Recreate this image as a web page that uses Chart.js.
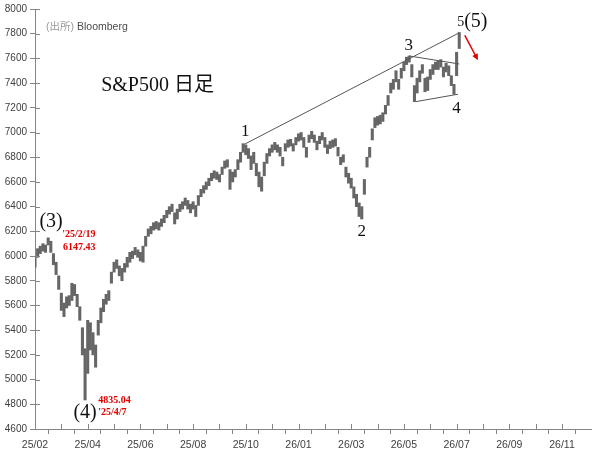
<!DOCTYPE html>
<html>
<head>
<meta charset="utf-8">
<script src="https://cdn.jsdelivr.net/npm/chart.js@4"></script>
<style>
  html, body { margin: 0; padding: 0; background: #fff; }
  #wrap { width: 604px; height: 467px; }
</style>
</head>
<body>
<div id="wrap"><canvas id="chart"></canvas></div>
<script>
// tick labels on the x axis, one every 20 bars
const tickLabels = ["25/02", "25/04", "25/06", "25/08", "25/10", "26/01",
    "26/03", "26/05", "26/07", "26/09", "26/11"];

// daily range, one bar per step
const lows = [
    5910, 5990, 6020, 6040, 6030, 6090, 6030, 5930, 5850, 5730,
    5560, 5510, 5580, 5600, 5640, 5680, 5590, 5480, 5200, 4835,
    5050, 5240, 5200, 5100, 5360, 5460, 5550, 5610, 5640, 5780,
    5870, 5900, 5840, 5800, 5870, 5910, 5950, 5980, 6010, 5990,
    5960, 5950, 6080, 6160, 6180, 6210, 6220, 6210, 6240, 6270,
    6310, 6340, 6360, 6260, 6300, 6360, 6380, 6410, 6380, 6350,
    6380, 6320, 6410, 6480, 6510, 6540, 6570, 6610, 6630, 6620,
    6600, 6660, 6710, 6720, 6540, 6600, 6640, 6700, 6760, 6840,
    6820, 6790, 6700, 6750, 6650, 6560, 6525, 6650, 6750, 6810,
    6840, 6860, 6840, 6810, 6730, 6850, 6880, 6890, 6850, 6900,
    6930, 6940, 6880, 6800, 6920, 6950, 6920, 6860, 6910, 6940,
    6880, 6830, 6870, 6880, 6890, 6810, 6740, 6760, 6640, 6590,
    6550, 6470, 6400, 6320, 6300, 6500, 6720, 6800, 6940, 7040,
    7060, 7070, 7090, 7150, 7220, 7320, 7350, 7410, 7350, 7440,
    7500, 7550, 7570, 7450, 7250, 7320, 7410, 7480, 7330, 7340,
    7430, 7470, 7510, 7510, 7530, 7450, 7490, 7460, 7380, 7310,
    7460, 7680
];
const highs = [
    5990, 6060, 6080, 6100, 6090, 6147, 6120, 6020, 5950, 5840,
    5700, 5620, 5670, 5680, 5780, 5770, 5690, 5590, 5420, 5250,
    5480, 5460, 5380, 5280, 5480, 5580, 5650, 5690, 5720, 5870,
    5950, 5970, 5920, 5900, 5940, 5990, 6030, 6040, 6070, 6050,
    6030, 6080, 6160, 6220, 6240, 6270, 6280, 6270, 6300, 6330,
    6370, 6400, 6420, 6350, 6380, 6420, 6440, 6470, 6450, 6420,
    6440, 6410, 6490, 6540, 6570, 6600, 6630, 6670, 6690, 6680,
    6660, 6720, 6770, 6780, 6700, 6680, 6700, 6780, 6840, 6910,
    6900, 6870, 6810, 6840, 6750, 6680, 6640, 6760, 6830, 6870,
    6900, 6920, 6900, 6880, 6800, 6910, 6940, 6945, 6910, 6960,
    6990, 7000, 6960, 6880, 6980, 7010, 6980, 6930, 6970, 7000,
    6960, 6900, 6930, 6940, 6950, 6880, 6800, 6820, 6720, 6670,
    6630, 6560, 6500, 6430, 6400, 6620, 6800, 6880, 7030, 7120,
    7130, 7140, 7160, 7220, 7300, 7400, 7430, 7500, 7430, 7520,
    7570, 7610, 7620, 7550, 7380, 7440, 7500, 7550, 7440, 7450,
    7510, 7550, 7570, 7580, 7590, 7530, 7560, 7540, 7460, 7390,
    7650, 7810
];

// wave-count trend lines (bar index, price)
const channelTop = [{x: 79.5, y: 6905}, {x: 160.8, y: 7805}];
const triangleTop = [{x: 142, y: 7620}, {x: 161, y: 7555}];
const triangleBottom = [{x: 144.5, y: 7250}, {x: 160.5, y: 7310}];

// text notes placed at (bar index, price)
const notes = [
    {text: "(出所)", x: 4.2, y: 7851, size: 10.5, color: "#9a9a9a", align: "left", font: "Liberation Sans"},
    {text: "S&P500 日足", x: 25.1, y: 7377, size: 20, color: "#111", align: "left", font: "Liberation Serif"},
    {text: "1", x: 79.8, y: 7007, size: 17, color: "#111", align: "center", font: "Liberation Serif"},
    {text: "2", x: 124, y: 6195, size: 17, color: "#111", align: "center", font: "Liberation Serif"},
    {text: "3", x: 141.8, y: 7707, size: 17, color: "#111", align: "center", font: "Liberation Serif"},
    {text: "4", x: 160, y: 7192, size: 17, color: "#111", align: "center", font: "Liberation Serif"},
    {text: "5", x: 161.6, y: 7891, size: 14, color: "#111", align: "center", font: "Liberation Serif"},
    {text: "(5)", x: 167.3, y: 7900, size: 20, color: "#111", align: "center", font: "Liberation Serif"},
    {text: "(3)", x: 6.1, y: 6275, size: 20, color: "#111", align: "center", font: "Liberation Serif"},
    {text: "(4)", x: 19, y: 4732, size: 20, color: "#111", align: "center", font: "Liberation Serif"},
    {text: "'25/2/19", x: 10.3, y: 6179, size: 10, color: "#e00000", align: "left", font: "Liberation Serif", bold: true},
    {text: "6147.43", x: 10.6, y: 6066, size: 10, color: "#e00000", align: "left", font: "Liberation Serif", bold: true},
    {text: "4835.04", x: 24, y: 4832, size: 10, color: "#e00000", align: "left", font: "Liberation Serif", bold: true},
    {text: "'25/4/7", x: 24, y: 4732, size: 10, color: "#e00000", align: "left", font: "Liberation Serif", bold: true}
];
const arrowFrom = {x: 163.1, y: 7787};
const arrowTo = {x: 168.1, y: 7586};

const AXIS_COLOR = "#858585";

const bars = lows.map(function(lo, i) {
    return {x: i, y: [lo, highs[i]]};
});

function trendLine(points) {
    return {
        type: "line", data: points, borderColor: "#555", borderWidth: 1,
        pointRadius: 0, fill: false, order: 0
    };
}

// ticks in the reference cross the axis line, chart.js only draws them outside
const crossTicks = {
    id: "crossTicks",
    afterDraw(chart) {
        const ctx = chart.ctx;
        const area = chart.chartArea;
        ctx.save();
        ctx.strokeStyle = AXIS_COLOR;
        ctx.lineWidth = 1;
        ctx.beginPath();
        chart.scales.y.ticks.forEach(function(t) {
            const py = Math.round(chart.scales.y.getPixelForValue(t.value)) + 0.5;
            ctx.moveTo(area.left, py);
            ctx.lineTo(area.left + 5, py);
        });
        chart.scales.x.ticks.forEach(function(t) {
            const px = Math.round(chart.scales.x.getPixelForValue(t.value)) + 0.5;
            ctx.moveTo(px, area.bottom);
            ctx.lineTo(px, area.bottom - 5);
        });
        ctx.stroke();
        ctx.restore();
    }
};

const annotations = {
    id: "annotations",
    afterDraw(chart) {
        const ctx = chart.ctx;
        const xs = chart.scales.x, ys = chart.scales.y;
        ctx.save();
        ctx.textBaseline = "middle";
        notes.forEach(function(n) {
            ctx.font = (n.bold ? "bold " : "") + n.size + "px '" + n.font + "', 'Noto Sans CJK JP'";
            ctx.fillStyle = n.color;
            ctx.textAlign = n.align;
            ctx.fillText(n.text, xs.getPixelForValue(n.x), ys.getPixelForValue(n.y));
        });
        // source name sits right after the grey (出所)
        const src = notes[0];
        ctx.font = "10.5px 'Liberation Sans', 'Noto Sans CJK JP'";
        ctx.textAlign = "left";
        ctx.fillStyle = "#4a4a4a";
        const w = ctx.measureText(src.text).width;
        ctx.fillText(" Bloomberg", xs.getPixelForValue(src.x) + w, ys.getPixelForValue(src.y));

        // red arrow
        const x1 = xs.getPixelForValue(arrowFrom.x), y1 = ys.getPixelForValue(arrowFrom.y);
        const x2 = xs.getPixelForValue(arrowTo.x), y2 = ys.getPixelForValue(arrowTo.y);
        const ang = Math.atan2(y2 - y1, x2 - x1);
        ctx.strokeStyle = "#e00000";
        ctx.fillStyle = "#e00000";
        ctx.lineWidth = 1.5;
        ctx.beginPath();
        ctx.moveTo(x1, y1);
        ctx.lineTo(x2 - 3 * Math.cos(ang), y2 - 3 * Math.sin(ang));
        ctx.stroke();
        ctx.beginPath();
        ctx.moveTo(x2, y2);
        ctx.lineTo(x2 - 7 * Math.cos(ang - 0.45), y2 - 7 * Math.sin(ang - 0.45));
        ctx.lineTo(x2 - 7 * Math.cos(ang + 0.45), y2 - 7 * Math.sin(ang + 0.45));
        ctx.closePath();
        ctx.fill();
        ctx.restore();
    }
};

new Chart(document.getElementById("chart"), {
    type: "bar",
    data: {
        datasets: [
            {
                data: bars, backgroundColor: "#666666", borderWidth: 0,
                barThickness: 2.4, order: 1
            },
            trendLine(channelTop),
            trendLine(triangleTop),
            trendLine(triangleBottom)
        ]
    },
    options: {
        responsive: true,
        maintainAspectRatio: false,
        animation: false,
        layout: { padding: { top: 7, right: 13, left: 0, bottom: 0 } },
        plugins: {
            legend: { display: false },
            tooltip: { enabled: false }
        },
        scales: {
            x: {
                type: "linear",
                offset: false,
                min: 0,
                max: 211,
                afterBuildTicks(scale) {
                    scale.ticks = scale.ticks.filter(function(t) { return t.value % 10 === 0; });
                },
                afterFit(scale) { scale.height = 38; },
                ticks: {
                    stepSize: 10,
                    autoSkip: false,
                    maxRotation: 0,
                    padding: 5,
                    color: "#404040",
                    font: { family: "Liberation Sans", size: 10.5 },
                    callback: function(v) {
                        return v % 20 === 0 ? tickLabels[v / 20] : "";
                    }
                },
                grid: { drawOnChartArea: false, tickLength: 5, color: AXIS_COLOR },
                border: { color: AXIS_COLOR }
            },
            y: {
                min: 4600,
                max: 8000,
                afterFit(scale) { scale.width = 35; },
                ticks: {
                    stepSize: 200,
                    padding: 3,
                    color: "#404040",
                    font: { family: "Liberation Sans", size: 10 },
                    callback: function(v) { return String(v); }
                },
                grid: { drawOnChartArea: false, tickLength: 5, color: AXIS_COLOR },
                border: { color: AXIS_COLOR }
            }
        }
    },
    plugins: [crossTicks, annotations]
});
</script>
</body>
</html>
